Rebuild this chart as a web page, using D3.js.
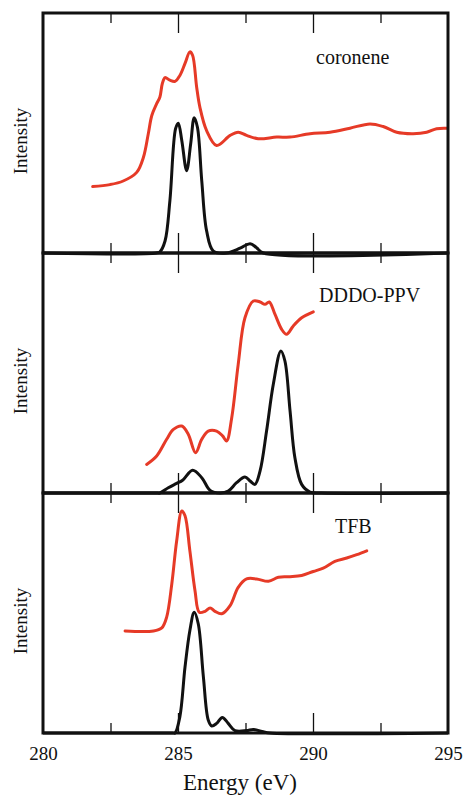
<!DOCTYPE html>
<html>
<head>
<meta charset="utf-8">
<script src="https://cdn.jsdelivr.net/npm/d3@7"></script>
<style>
  body { margin: 0; background: #fff; }
  svg { display: block; }
  svg text { font-family: "Liberation Serif", "Times New Roman", "DejaVu Serif", serif; }
</style>
</head>
<body>
<div id="chart"></div>
<script>
// ---- data (energy in eV, intensity normalised to the panel height) ----
const panelNames = ["coronene", "DDDO-PPV", "TFB"];
const majorTicks = [280, 285, 290, 295];
const minorTicks = [282.5, 287.5, 292.5];

const coroneneExpE = [281.84, 282.48, 282.97, 283.47, 283.72, 283.9, 284.03, 284.21, 284.33, 284.42, 284.52, 284.7, 284.89, 285.07, 285.26, 285.44, 285.54, 285.69, 285.81, 286.06, 286.43, 286.93, 287.23, 287.54, 287.97, 288.66, 289.15, 289.89, 290.63, 291.37, 292.11, 292.6, 293.1, 293.71, 294.21, 294.58, 294.95];
const coroneneExpI = [0.277, 0.285, 0.30, 0.336, 0.399, 0.497, 0.573, 0.622, 0.65, 0.706, 0.731, 0.72, 0.715, 0.74, 0.79, 0.838, 0.824, 0.692, 0.608, 0.51, 0.448, 0.49, 0.503, 0.49, 0.476, 0.483, 0.483, 0.497, 0.503, 0.52, 0.538, 0.527, 0.503, 0.497, 0.503, 0.518, 0.52];
const coroneneCalcE = [280, 284.2, 284.33, 284.52, 284.7, 284.91, 285.01, 285.14, 285.32, 285.47, 285.6, 285.72, 285.88, 286.06, 286.31, 286.8, 287.3, 287.67, 287.91, 288.16, 295];
const coroneneCalcI = [0, 0, 0.005, 0.05, 0.218, 0.518, 0.541, 0.469, 0.343, 0.455, 0.564, 0.524, 0.301, 0.092, 0.008, 0, 0.02, 0.039, 0.022, 0, 0];

const dddoExpE = [283.84, 284.21, 284.58, 284.83, 285.14, 285.38, 285.65, 285.88, 286.12, 286.43, 286.65, 286.8, 286.99, 287.23, 287.48, 287.79, 288.04, 288.22, 288.38, 288.59, 288.84, 289.02, 289.27, 289.58, 290.01];
const dddoExpI = [0.119, 0.154, 0.224, 0.265, 0.279, 0.245, 0.168, 0.224, 0.258, 0.258, 0.238, 0.217, 0.314, 0.536, 0.73, 0.80, 0.796, 0.786, 0.796, 0.745, 0.682, 0.661, 0.696, 0.73, 0.755];
const dddoCalcE = [280, 284.2, 284.33, 284.64, 284.95, 285.17, 285.54, 285.88, 286.19, 286.56, 286.86, 287.17, 287.48, 287.67, 287.85, 288.04, 288.28, 288.53, 288.81, 288.96, 289.15, 289.33, 289.58, 289.89, 290.3, 295];
const dddoCalcI = [0, 0, 0, 0.022, 0.04, 0.053, 0.095, 0.064, 0.011, 0, 0.008, 0.043, 0.067, 0.05, 0.036, 0.092, 0.258, 0.453, 0.592, 0.55, 0.342, 0.147, 0.036, 0.004, 0, 0];

const tfbExpE = [283.04, 284.09, 284.4, 284.58, 284.77, 284.95, 285.14, 285.26, 285.44, 285.63, 285.79, 286.0, 286.19, 286.37, 286.62, 286.93, 287.23, 287.54, 287.91, 288.35, 288.72, 289.15, 289.58, 290.01, 290.38, 290.81, 291.25, 291.62, 291.99];
const tfbExpI = [0.425, 0.425, 0.438, 0.483, 0.621, 0.80, 0.925, 0.905, 0.759, 0.593, 0.503, 0.507, 0.521, 0.507, 0.497, 0.531, 0.607, 0.642, 0.642, 0.632, 0.649, 0.651, 0.656, 0.673, 0.687, 0.715, 0.729, 0.743, 0.759];
const tfbCalcE = [280, 284.8, 284.89, 285.07, 285.26, 285.44, 285.6, 285.75, 285.94, 286.12, 286.25, 286.43, 286.64, 286.86, 287.11, 287.54, 287.79, 288.16, 288.4, 295];
const tfbCalcI = [0, 0, 0, 0.068, 0.275, 0.427, 0.503, 0.455, 0.234, 0.054, 0.029, 0.04, 0.065, 0.04, 0.01, 0.01, 0.015, 0.005, 0, 0];

const expSeries = [[coroneneExpE, coroneneExpI], [dddoExpE, dddoExpI], [tfbExpE, tfbExpI]];
const calcSeries = [[coroneneCalcE, coroneneCalcI], [dddoCalcE, dddoCalcI], [tfbCalcE, tfbCalcI]];

// ---- layout ----
const width = 465, height = 795;
const margin = {top: 13, left: 43, right: 17};
const panelH = 240;
const labelPos = [{x: 316, y: 64}, {x: 319, y: 302}, {x: 335, y: 533}];
const red = "#e63a27";
const serif = "'Liberation Serif', 'Times New Roman', 'DejaVu Serif', serif";

const svg = d3.select("#chart").append("svg")
    .attr("width", width)
    .attr("height", height);

const x = d3.scaleLinear()
    .domain([280, 295])
    .range([margin.left, width - margin.right]);

const zipped = (pair) => pair[0].map((e, i) => ({e: e, v: pair[1][i]}));

panelNames.forEach((name, i) => {
    const top = margin.top + i * panelH;
    const bottom = top + panelH;
    const y = d3.scaleLinear().domain([0, 1]).range([bottom, top]);

    const line = d3.line()
        .x(d => x(d.e))
        .y(d => y(d.v))
        .curve(d3.curveCatmullRom.alpha(0.5));

    const g = svg.append("g").attr("class", "panel");

    // calculated spectrum (black) and experimental spectrum (red)
    g.append("path")
        .datum(zipped(calcSeries[i]))
        .attr("fill", "none")
        .attr("stroke", "#111")
        .attr("stroke-width", 3)
        .attr("stroke-linejoin", "round")
        .attr("d", line);

    g.append("path")
        .datum(zipped(expSeries[i]))
        .attr("fill", "none")
        .attr("stroke", red)
        .attr("stroke-width", 3)
        .attr("stroke-linejoin", "round")
        .attr("stroke-linecap", "round")
        .attr("d", line);

    // inward ticks on top and bottom edges
    const addTicks = (values, len) => {
        g.append("g")
            .attr("transform", "translate(0," + bottom + ")")
            .call(d3.axisBottom(x).tickValues(values).tickSize(-len).tickFormat(""))
            .call(a => a.select(".domain").remove())
            .call(a => a.selectAll("line").attr("stroke", "#111").attr("stroke-width", 1.3));
        g.append("g")
            .attr("transform", "translate(0," + top + ")")
            .call(d3.axisTop(x).tickValues(values).tickSize(-len).tickFormat(""))
            .call(a => a.select(".domain").remove())
            .call(a => a.selectAll("line").attr("stroke", "#111").attr("stroke-width", 1.3));
    };
    addTicks(majorTicks.slice(1, -1), 20);
    addTicks(minorTicks, 10);

    // frame
    g.append("rect")
        .attr("x", x(280))
        .attr("y", top)
        .attr("width", x(295) - x(280))
        .attr("height", panelH)
        .attr("fill", "none")
        .attr("stroke", "#111")
        .attr("stroke-width", 3);

    g.append("text")
        .attr("x", labelPos[i].x)
        .attr("y", labelPos[i].y)
        .attr("font-family", serif)
        .attr("font-size", 20)
        .attr("fill", "#111")
        .text(name);

    g.append("text")
        .attr("transform", "translate(27," + ((top + bottom) / 2 + 8) + ") rotate(-90)")
        .attr("text-anchor", "middle")
        .attr("font-family", serif)
        .attr("font-size", 19)
        .attr("fill", "#111")
        .text("Intensity");

    if (i === panelNames.length - 1) {
        const axis = g.append("g")
            .attr("transform", "translate(0," + bottom + ")")
            .call(d3.axisBottom(x).tickValues(majorTicks).tickSize(0).tickPadding(14).tickFormat(d3.format("d")));
        axis.attr("font-family", serif).attr("font-size", 19);
        axis.select(".domain").remove();
        axis.selectAll("text")
            .attr("font-family", serif)
            .attr("font-size", 19)
            .attr("fill", "#111");

        g.append("text")
            .attr("x", 240)
            .attr("y", 790)
            .attr("text-anchor", "middle")
            .attr("font-family", serif)
            .attr("font-size", 23)
            .attr("fill", "#111")
            .text("Energy (eV)");
    }
});
</script>
</body>
</html>
